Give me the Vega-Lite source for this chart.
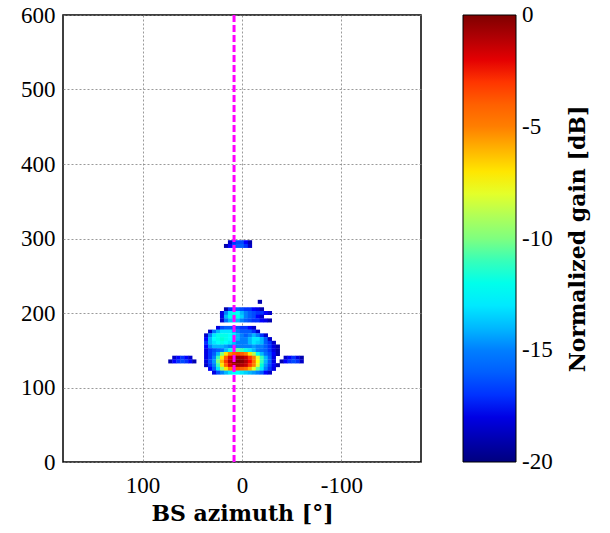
{
  "$schema": "https://vega.github.io/schema/vega-lite/v6.json",
  "width": 358,
  "height": 447,
  "autosize": {"type": "none"},
  "padding": {"left": 63, "top": 15, "right": 189, "bottom": 71},
  "background": "white",
  "config": {
    "font": "Liberation Serif",
    "view": {"stroke": "#000", "strokeWidth": 1.5}
  },
  "datasets": {
    "cells": [
      {"az": 24, "d": 180, "g": -18}, {"az": 20, "d": 180, "g": -16.5}, {"az": 16, "d": 180, "g": -16}, {"az": 12, "d": 180, "g": -16}, {"az": 8, "d": 180, "g": -16}, {"az": 4, "d": 180, "g": -16.5}, {"az": 0, "d": 180, "g": -17}, {"az": -4, "d": 180, "g": -17}, {"az": -8, "d": 180, "g": -17.5}, {"az": -12, "d": 180, "g": -18.5},
      {"az": 32, "d": 175, "g": -18.5}, {"az": 28, "d": 175, "g": -15.5}, {"az": 24, "d": 175, "g": -14}, {"az": 20, "d": 175, "g": -13}, {"az": 16, "d": 175, "g": -13}, {"az": 12, "d": 175, "g": -13}, {"az": 8, "d": 175, "g": -14}, {"az": 4, "d": 175, "g": -15}, {"az": 0, "d": 175, "g": -16}, {"az": -4, "d": 175, "g": -16}, {"az": -8, "d": 175, "g": -16}, {"az": -12, "d": 175, "g": -17}, {"az": -16, "d": 175, "g": -18.5},
      {"az": 36, "d": 170, "g": -18.5}, {"az": 32, "d": 170, "g": -15}, {"az": 28, "d": 170, "g": -13}, {"az": 24, "d": 170, "g": -12}, {"az": 20, "d": 170, "g": -12}, {"az": 16, "d": 170, "g": -12}, {"az": 12, "d": 170, "g": -12.5}, {"az": 8, "d": 170, "g": -13}, {"az": 4, "d": 170, "g": -14}, {"az": 0, "d": 170, "g": -15}, {"az": -4, "d": 170, "g": -16}, {"az": -8, "d": 170, "g": -15}, {"az": -12, "d": 170, "g": -14}, {"az": -16, "d": 170, "g": -15}, {"az": -20, "d": 170, "g": -17}, {"az": -24, "d": 170, "g": -18.5},
      {"az": 36, "d": 165, "g": -17.5}, {"az": 32, "d": 165, "g": -14}, {"az": 28, "d": 165, "g": -12.5}, {"az": 24, "d": 165, "g": -12}, {"az": 20, "d": 165, "g": -11.5}, {"az": 16, "d": 165, "g": -12}, {"az": 12, "d": 165, "g": -12.5}, {"az": 8, "d": 165, "g": -13}, {"az": 4, "d": 165, "g": -14}, {"az": 0, "d": 165, "g": -15}, {"az": -4, "d": 165, "g": -15}, {"az": -8, "d": 165, "g": -14}, {"az": -12, "d": 165, "g": -13}, {"az": -16, "d": 165, "g": -13}, {"az": -20, "d": 165, "g": -14}, {"az": -24, "d": 165, "g": -16}, {"az": -28, "d": 165, "g": -18.5},
      {"az": 36, "d": 160, "g": -17}, {"az": 32, "d": 160, "g": -14}, {"az": 28, "d": 160, "g": -13}, {"az": 24, "d": 160, "g": -12.5}, {"az": 20, "d": 160, "g": -12}, {"az": 16, "d": 160, "g": -12.5}, {"az": 12, "d": 160, "g": -13}, {"az": 8, "d": 160, "g": -14}, {"az": 4, "d": 160, "g": -15}, {"az": 0, "d": 160, "g": -15}, {"az": -4, "d": 160, "g": -15}, {"az": -8, "d": 160, "g": -14}, {"az": -12, "d": 160, "g": -13}, {"az": -16, "d": 160, "g": -13.5}, {"az": -20, "d": 160, "g": -14}, {"az": -24, "d": 160, "g": -16}, {"az": -28, "d": 160, "g": -17}, {"az": -32, "d": 160, "g": -18.5},
      {"az": 36, "d": 155, "g": -17.5}, {"az": 32, "d": 155, "g": -15}, {"az": 28, "d": 155, "g": -14}, {"az": 24, "d": 155, "g": -14}, {"az": 20, "d": 155, "g": -14}, {"az": 16, "d": 155, "g": -14.5}, {"az": 12, "d": 155, "g": -15}, {"az": 8, "d": 155, "g": -15}, {"az": 4, "d": 155, "g": -15}, {"az": 0, "d": 155, "g": -15}, {"az": -4, "d": 155, "g": -15}, {"az": -8, "d": 155, "g": -15}, {"az": -12, "d": 155, "g": -14.5}, {"az": -16, "d": 155, "g": -15}, {"az": -20, "d": 155, "g": -15}, {"az": -24, "d": 155, "g": -16}, {"az": -28, "d": 155, "g": -17}, {"az": -32, "d": 155, "g": -18}, {"az": -36, "d": 155, "g": -19},
      {"az": 36, "d": 150, "g": -18}, {"az": 32, "d": 150, "g": -17}, {"az": 28, "d": 150, "g": -16.5}, {"az": 24, "d": 150, "g": -16}, {"az": 20, "d": 150, "g": -15.5}, {"az": 16, "d": 150, "g": -14}, {"az": 12, "d": 150, "g": -12}, {"az": 8, "d": 150, "g": -11}, {"az": 4, "d": 150, "g": -10.5}, {"az": 0, "d": 150, "g": -11}, {"az": -4, "d": 150, "g": -12}, {"az": -8, "d": 150, "g": -13}, {"az": -12, "d": 150, "g": -14}, {"az": -16, "d": 150, "g": -15}, {"az": -20, "d": 150, "g": -15.5}, {"az": -24, "d": 150, "g": -16}, {"az": -28, "d": 150, "g": -17}, {"az": -32, "d": 150, "g": -18}, {"az": -36, "d": 150, "g": -19},
      {"az": 36, "d": 145, "g": -18}, {"az": 32, "d": 145, "g": -17}, {"az": 28, "d": 145, "g": -16}, {"az": 24, "d": 145, "g": -14}, {"az": 20, "d": 145, "g": -10}, {"az": 16, "d": 145, "g": -7}, {"az": 12, "d": 145, "g": -5}, {"az": 8, "d": 145, "g": -4}, {"az": 4, "d": 145, "g": -3.5}, {"az": 0, "d": 145, "g": -4}, {"az": -4, "d": 145, "g": -5}, {"az": -8, "d": 145, "g": -7}, {"az": -12, "d": 145, "g": -9}, {"az": -16, "d": 145, "g": -12}, {"az": -20, "d": 145, "g": -14}, {"az": -24, "d": 145, "g": -15.5}, {"az": -28, "d": 145, "g": -16.5}, {"az": -32, "d": 145, "g": -17.5}, {"az": -36, "d": 145, "g": -19},
      {"az": 36, "d": 140, "g": -18}, {"az": 32, "d": 140, "g": -17}, {"az": 28, "d": 140, "g": -15}, {"az": 24, "d": 140, "g": -11}, {"az": 20, "d": 140, "g": -7}, {"az": 16, "d": 140, "g": -4}, {"az": 12, "d": 140, "g": -2}, {"az": 8, "d": 140, "g": -1}, {"az": 4, "d": 140, "g": -0.5}, {"az": 0, "d": 140, "g": -0.8}, {"az": -4, "d": 140, "g": -1.5}, {"az": -8, "d": 140, "g": -3}, {"az": -12, "d": 140, "g": -5}, {"az": -16, "d": 140, "g": -8}, {"az": -20, "d": 140, "g": -11}, {"az": -24, "d": 140, "g": -14}, {"az": -28, "d": 140, "g": -16}, {"az": -32, "d": 140, "g": -18},
      {"az": 36, "d": 135, "g": -18}, {"az": 32, "d": 135, "g": -16.5}, {"az": 28, "d": 135, "g": -14.5}, {"az": 24, "d": 135, "g": -10}, {"az": 20, "d": 135, "g": -6}, {"az": 16, "d": 135, "g": -3}, {"az": 12, "d": 135, "g": -1}, {"az": 8, "d": 135, "g": -0.3}, {"az": 4, "d": 135, "g": 0}, {"az": 0, "d": 135, "g": -0.2}, {"az": -4, "d": 135, "g": -1}, {"az": -8, "d": 135, "g": -2.5}, {"az": -12, "d": 135, "g": -4.5}, {"az": -16, "d": 135, "g": -7.5}, {"az": -20, "d": 135, "g": -11}, {"az": -24, "d": 135, "g": -14}, {"az": -28, "d": 135, "g": -16}, {"az": -32, "d": 135, "g": -18},
      {"az": 36, "d": 130, "g": -18.5}, {"az": 32, "d": 130, "g": -17}, {"az": 28, "d": 130, "g": -15}, {"az": 24, "d": 130, "g": -11}, {"az": 20, "d": 130, "g": -7}, {"az": 16, "d": 130, "g": -4}, {"az": 12, "d": 130, "g": -2}, {"az": 8, "d": 130, "g": -1}, {"az": 4, "d": 130, "g": -0.7}, {"az": 0, "d": 130, "g": -1}, {"az": -4, "d": 130, "g": -1.5}, {"az": -8, "d": 130, "g": -3}, {"az": -12, "d": 130, "g": -5}, {"az": -16, "d": 130, "g": -8}, {"az": -20, "d": 130, "g": -11.5}, {"az": -24, "d": 130, "g": -14.5}, {"az": -28, "d": 130, "g": -16.5}, {"az": -32, "d": 130, "g": -17.5}, {"az": -36, "d": 130, "g": -19},
      {"az": 32, "d": 125, "g": -17.5}, {"az": 28, "d": 125, "g": -16}, {"az": 24, "d": 125, "g": -13}, {"az": 20, "d": 125, "g": -9.5}, {"az": 16, "d": 125, "g": -7}, {"az": 12, "d": 125, "g": -5}, {"az": 8, "d": 125, "g": -4}, {"az": 4, "d": 125, "g": -3.5}, {"az": 0, "d": 125, "g": -4}, {"az": -4, "d": 125, "g": -4.5}, {"az": -8, "d": 125, "g": -6}, {"az": -12, "d": 125, "g": -8}, {"az": -16, "d": 125, "g": -10.5}, {"az": -20, "d": 125, "g": -13}, {"az": -24, "d": 125, "g": -15}, {"az": -28, "d": 125, "g": -17}, {"az": -32, "d": 125, "g": -18},
      {"az": 28, "d": 120, "g": -18}, {"az": 24, "d": 120, "g": -16.5}, {"az": 20, "d": 120, "g": -15}, {"az": 16, "d": 120, "g": -14}, {"az": 12, "d": 120, "g": -13}, {"az": 8, "d": 120, "g": -12.5}, {"az": 4, "d": 120, "g": -12.5}, {"az": 0, "d": 120, "g": -13}, {"az": -4, "d": 120, "g": -13.5}, {"az": -8, "d": 120, "g": -14}, {"az": -12, "d": 120, "g": -14.5}, {"az": -16, "d": 120, "g": -15}, {"az": -20, "d": 120, "g": -16}, {"az": -24, "d": 120, "g": -17.5}, {"az": -28, "d": 120, "g": -18.5},
      {"az": 68, "d": 140, "g": -18.5}, {"az": 64, "d": 140, "g": -17.5}, {"az": 60, "d": 140, "g": -17}, {"az": 56, "d": 140, "g": -17.5}, {"az": 52, "d": 140, "g": -18.5},
      {"az": 72, "d": 135, "g": -19}, {"az": 68, "d": 135, "g": -17.5}, {"az": 64, "d": 135, "g": -17}, {"az": 60, "d": 135, "g": -16.5}, {"az": 56, "d": 135, "g": -17}, {"az": 52, "d": 135, "g": -17.5}, {"az": 48, "d": 135, "g": -19},
      {"az": -44, "d": 140, "g": -18.5}, {"az": -48, "d": 140, "g": -17.5}, {"az": -52, "d": 140, "g": -17}, {"az": -56, "d": 140, "g": -18}, {"az": -60, "d": 140, "g": -19},
      {"az": -40, "d": 135, "g": -19}, {"az": -44, "d": 135, "g": -17.5}, {"az": -48, "d": 135, "g": -17}, {"az": -52, "d": 135, "g": -16.5}, {"az": -56, "d": 135, "g": -17}, {"az": -60, "d": 135, "g": -18.5},
      {"az": 16, "d": 205, "g": -19}, {"az": 12, "d": 205, "g": -17}, {"az": 8, "d": 205, "g": -16}, {"az": 4, "d": 205, "g": -16}, {"az": 0, "d": 205, "g": -16.5}, {"az": -4, "d": 205, "g": -17}, {"az": -8, "d": 205, "g": -17}, {"az": -12, "d": 205, "g": -17.5}, {"az": -16, "d": 205, "g": -18}, {"az": -20, "d": 205, "g": -19},
      {"az": 20, "d": 200, "g": -18}, {"az": 16, "d": 200, "g": -15}, {"az": 12, "d": 200, "g": -13}, {"az": 8, "d": 200, "g": -12}, {"az": 4, "d": 200, "g": -12.5}, {"az": 0, "d": 200, "g": -14}, {"az": -4, "d": 200, "g": -15}, {"az": -8, "d": 200, "g": -16}, {"az": -12, "d": 200, "g": -16.5}, {"az": -16, "d": 200, "g": -17}, {"az": -20, "d": 200, "g": -17}, {"az": -24, "d": 200, "g": -17.5}, {"az": -28, "d": 200, "g": -18.5},
      {"az": 20, "d": 195, "g": -18}, {"az": 16, "d": 195, "g": -14}, {"az": 12, "d": 195, "g": -12}, {"az": 8, "d": 195, "g": -11.5}, {"az": 4, "d": 195, "g": -12}, {"az": 0, "d": 195, "g": -13.5}, {"az": -4, "d": 195, "g": -15}, {"az": -8, "d": 195, "g": -16}, {"az": -12, "d": 195, "g": -16.5}, {"az": -16, "d": 195, "g": -17.5}, {"az": -20, "d": 195, "g": -18.5},
      {"az": 20, "d": 190, "g": -18.5}, {"az": 16, "d": 190, "g": -15.5}, {"az": 12, "d": 190, "g": -14}, {"az": 8, "d": 190, "g": -13.5}, {"az": 4, "d": 190, "g": -14}, {"az": 0, "d": 190, "g": -15}, {"az": -4, "d": 190, "g": -16}, {"az": -8, "d": 190, "g": -16.5}, {"az": -12, "d": 190, "g": -17}, {"az": -16, "d": 190, "g": -17}, {"az": -20, "d": 190, "g": -17.5}, {"az": -24, "d": 190, "g": -18}, {"az": -28, "d": 190, "g": -19},
      {"az": -18, "d": 215, "g": -19},
      {"az": 12, "d": 295, "g": -18.5}, {"az": 8, "d": 295, "g": -17}, {"az": 4, "d": 295, "g": -16.5}, {"az": 0, "d": 295, "g": -16.5}, {"az": -4, "d": 295, "g": -17.5}, {"az": -8, "d": 295, "g": -19},
      {"az": 16, "d": 290, "g": -19}, {"az": 12, "d": 290, "g": -17.5}, {"az": 8, "d": 290, "g": -16.5}, {"az": 4, "d": 290, "g": -16}, {"az": 0, "d": 290, "g": -16}, {"az": -4, "d": 290, "g": -17}, {"az": -8, "d": 290, "g": -18.5}
    ],
    "marker": [{"az": 8}]
  },
  "layer": [
    {
      "data": {"name": "cells"},
      "mark": {"type": "rect", "width": 4.3, "height": 4},
      "encoding": {
        "x": {
          "field": "az", "type": "quantitative",
          "scale": {"domain": [-180, 180], "reverse": true, "nice": false, "zero": false},
          "axis": {
            "values": [-100, 0, 100],
            "labelExpr": "'' + datum.value",
            "grid": true, "gridColor": "#808080", "gridDash": [2, 2], "gridWidth": 0.8,
            "ticks": false, "domain": false, "labelFlush": false,
            "labelFont": "Liberation Serif", "labelFontSize": 23, "labelColor": "#000", "labelPadding": 12,
            "title": "BS azimuth [°]", "titleFont": "DejaVu Serif", "titleFontSize": 22,
            "titleFontWeight": "bold", "titleColor": "#000", "titlePadding": 6
          }
        },
        "y": {
          "field": "d", "type": "quantitative",
          "scale": {"domain": [0, 600], "nice": false, "zero": false},
          "axis": {
            "values": [0, 100, 200, 300, 400, 500, 600],
            "grid": true, "gridColor": "#808080", "gridDash": [2, 2], "gridWidth": 0.8,
            "ticks": false, "domain": false, "labelFlush": false,
            "labelFont": "Liberation Serif", "labelFontSize": 23, "labelColor": "#000", "labelPadding": 8,
            "title": null
          }
        },
        "color": {
          "field": "g", "type": "quantitative",
          "scale": {
            "domain": [-20, 0],
            "range": ["#00007f", "#0000ff", "#007fff", "#00ffff", "#7fff7f", "#ffff00", "#ff7f00", "#ff0000", "#7f0000"]
          },
          "legend": {
            "orient": "none", "legendX": 400, "legendY": 0, "direction": "vertical",
            "gradientLength": 447, "gradientThickness": 53,
            "gradientStrokeColor": "#000", "gradientStrokeWidth": 1,
            "values": [0, -5, -10, -15, -20],
            "labelExpr": "'' + datum.value",
            "labelFont": "Liberation Serif", "labelFontSize": 23, "labelColor": "#000",
            "labelOffset": 6, "labelBaseline": "middle", "labelOverlap": false,
            "title": "Normalized gain [dB]", "titleOrient": "right", "titleAngle": -90,
            "titleLimit": 500,
            "titleFont": "DejaVu Serif", "titleFontSize": 22, "titleFontWeight": "bold",
            "titleColor": "#000", "titlePadding": 12, "titleAnchor": "middle",
            "encode": {
              "labels": {"update": {"baseline": {"value": "middle"}}},
              "title": {"update": {"angle": {"value": 270}, "dy": {"value": 25}}}
            }
          }
        }
      }
    },
    {
      "data": {"name": "marker"},
      "mark": {"type": "rule", "color": "#ff00ff", "strokeWidth": 3, "strokeDash": [7, 3]},
      "encoding": {"x": {"field": "az", "type": "quantitative"}}
    }
  ]
}
